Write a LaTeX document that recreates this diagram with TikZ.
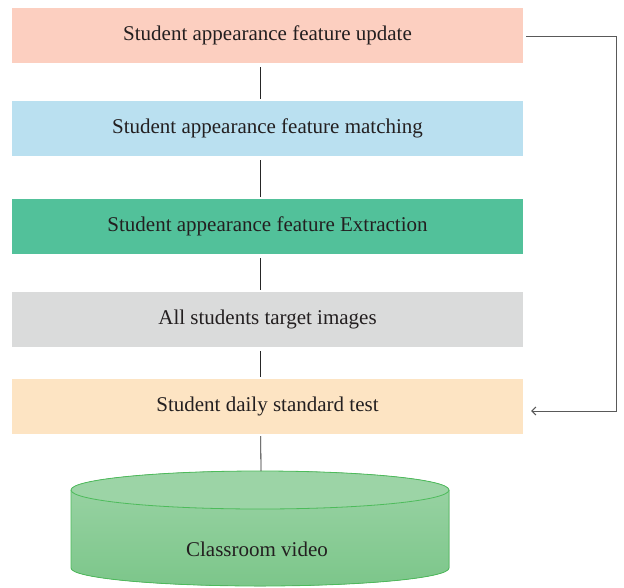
\documentclass[tikz,border=0pt]{standalone}
\usepackage{fontspec}
\setmainfont{Liberation Serif}
\usetikzlibrary{arrows.meta}
\definecolor{c1}{HTML}{FCCFC0}
\definecolor{c2}{HTML}{BAE0F0}
\definecolor{c3}{HTML}{52C19A}
\definecolor{c4}{HTML}{DADBDB}
\definecolor{c5}{HTML}{FDE4C3}
\definecolor{cylA}{HTML}{9CD4A6}
\definecolor{cylB}{HTML}{7CC68A}
\definecolor{cylS}{HTML}{4DBB5B}
\definecolor{txt}{HTML}{231F20}
\begin{document}
\begin{tikzpicture}[x=1pt,y=-1pt,
  stage/.style={minimum width=511pt,minimum height=55pt,inner sep=0pt,font=\fontsize{21}{24}\selectfont,text=txt},
  link/.style={draw=black!85,line width=0.8pt}]
\useasboundingbox (0,0) rectangle (624,587);
\node[stage,fill=c1] (b1) at (267.5,35.5) {Student appearance feature update};
\node[stage,fill=c2] (b2) at (267.5,128.5) {Student appearance feature matching};
\node[stage,fill=c3] (b3) at (267.5,226.5) {Student appearance feature Extraction};
\node[stage,fill=c4] (b4) at (267.5,319.5) {All students target images};
\node[stage,fill=c5] (b5) at (267.5,406.5) {Student daily standard test};
% cylinder
\fill[top color=cylA,bottom color=cylB] (71,490) -- (71,568) arc[start angle=180,end angle=360,x radius=189,y radius=-18] -- (449,490) arc[start angle=0,end angle=180,x radius=189,y radius=-19] -- cycle;
\draw[cylS,line width=0.8pt] (71,490) -- (71,568) arc[start angle=180,end angle=360,x radius=189,y radius=-18] -- (449,490);
\draw[cylS,line width=0.8pt,fill=cylA] (260,490) ellipse[x radius=189,y radius=19];
\node[font=\fontsize{21}{24}\selectfont,text=txt] (cyl) at (257,549) {Classroom video};
\coordinate (ctop) at (261,471);
% links
\foreach \a/\b in {b1/b2,b2/b3,b3/b4,b4/b5}{
  \draw[link] ([xshift=-6.8pt,yshift=-4pt]\a.south) -- ([xshift=-6.8pt,yshift=1.5pt]\b.north);
}
\draw[link] ([xshift=-6.8pt,yshift=-2pt]b5.south) -- (ctop);
\coordinate (r1) at (616,36);
\coordinate (r2) at (616,411);
\draw[draw=black!65,line width=1pt,-{Straight Barb[length=4pt,width=8pt]}] ([xshift=3pt]b1.east |- r1) -- (r1) -- (r2) -- ([xshift=8pt]b5.east |- r2);
\end{tikzpicture}
\end{document}
